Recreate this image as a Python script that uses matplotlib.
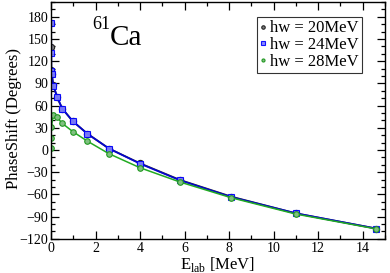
import matplotlib
matplotlib.use("Agg")
import matplotlib.pyplot as plt
from matplotlib.ticker import MultipleLocator

plt.rcParams['font.family'] = ['Liberation Serif', 'DejaVu Serif']
plt.rcParams['mathtext.fontset'] = 'custom'
plt.rcParams['mathtext.rm'] = 'Liberation Serif'

# data
e20 = [0.001, 0.005, 0.01, 0.03, 0.1, 0.27, 0.5, 0.97, 1.63, 2.6, 4.0, 5.8, 8.1, 11.0, 14.6]
p20 = [172, 139, 108, 103, 88, 71, 56, 39, 22, 2, -18, -40.5, -63, -85.5, -106]
e24 = [0.001, 0.005, 0.01, 0.03, 0.1, 0.27, 0.5, 0.97, 1.63, 2.6, 4.0, 5.8, 8.1, 11.0, 14.6]
p24 = [171, 131, 107, 102, 87, 72, 56, 39, 22, 2, -18.5, -41, -63.5, -85.5, -106]
e28 = [0.001, 0.005, 0.01, 0.1, 0.27, 0.5, 0.97, 1.63, 2.6, 4.0, 5.8, 8.1, 11.0, 14.6]
p28 = [3, 16, 31, 47, 44, 36, 25, 12, -5, -24, -43.3, -64.5, -86.5, -106.5]
labels = ['hw = 20MeV', 'hw = 24MeV', 'hw = 28MeV']

fig = plt.figure(figsize=(3.9, 2.73), dpi=100)
ax = fig.add_axes([0.131, 0.125, 0.856, 0.868])

ax.plot(e20, p20, color='#303030', lw=1.3, marker='o', ms=4.5,
        mfc='#808080', mec='#202020', mew=0.8, label=labels[0])
ax.plot(e24, p24, color='#0000dd', lw=1.3, marker='s', ms=5,
        mfc='#7f7fff', mec='#0000ff', mew=0.8, alpha=0.9, label=labels[1])
ax.plot(e28, p28, color='#22aa22', lw=1.1, marker='o', ms=4,
        mfc='#80c080', mec='#229922', mew=0.8, label=labels[2])

ax.set_xlim(0, 15)
ax.set_ylim(-120, 200)
ax.xaxis.set_major_locator(MultipleLocator(2))
ax.xaxis.set_minor_locator(MultipleLocator(1))
ax.yaxis.set_minor_locator(MultipleLocator(10))
ax.set_yticks(range(-120, 181, 30))
ax.tick_params(which='both', direction='in', top=True, right=True, labelsize=10, pad=2)
ax.tick_params(which='major', length=6, width=0.9)
ax.tick_params(which='minor', length=3, width=0.9)
for s in ax.spines.values():
    s.set_linewidth(1.0)

ax.set_xlabel(r'E$_{\rm lab}$ [MeV]', fontsize=12, labelpad=0)
ax.set_ylabel('PhaseShift (Degrees)', fontsize=12)
ax.yaxis.set_label_coords(-0.087, 0.51)

ax.text(2.65, 142, 'Ca', fontsize=21, va='baseline', ha='left')
ax.text(1.84, 163.5, '61', fontsize=13, va='baseline', ha='left')

leg = ax.legend(loc='upper right', bbox_to_anchor=(0.931, 0.936), borderaxespad=0,
                fontsize=12, handlelength=0.3, handletextpad=0.25, borderpad=0.2,
                labelspacing=0.05, frameon=True, fancybox=False, edgecolor='black',
                markerscale=0.55)
leg.get_frame().set_linewidth(0.8)
for h in leg.get_lines():
    h.set_linewidth(0)

fig.savefig('out.png', dpi=100)
